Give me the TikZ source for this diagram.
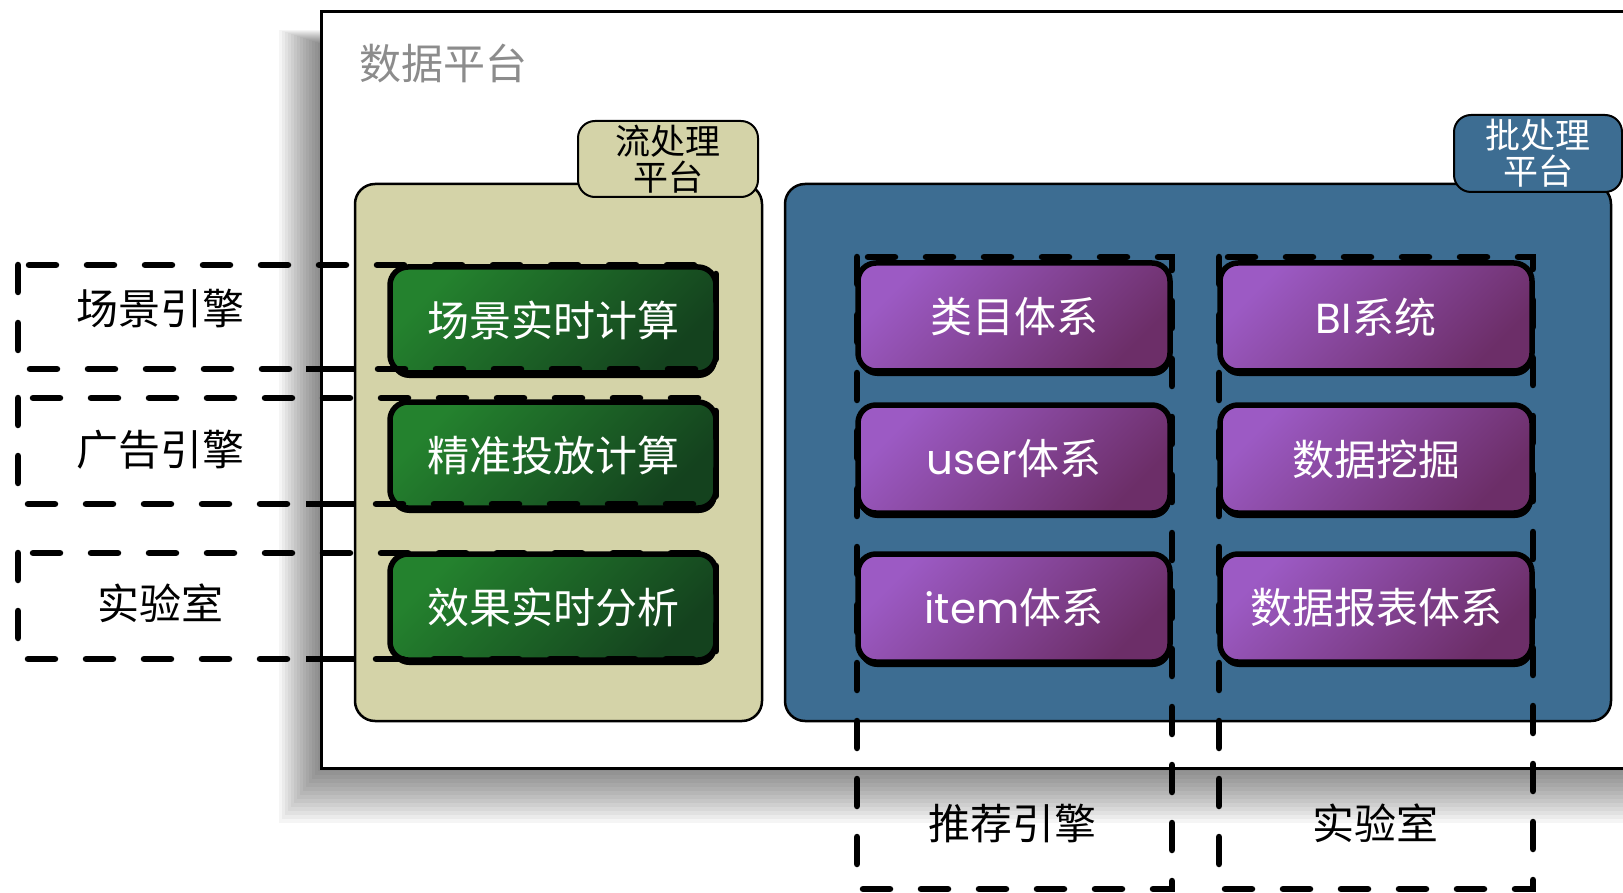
\documentclass[tikz,border=0pt]{standalone}
\usepackage{fontspec}
\setmainfont{Noto Sans CJK SC}
\newfontfamily\latfont{Poppins}
\usetikzlibrary{shadows}
\definecolor{tanfill}{RGB}{212,211,168}
\definecolor{bluefill}{RGB}{61,109,146}
\definecolor{greenTL}{RGB}{36,130,46}
\definecolor{greenBR}{RGB}{20,66,30}
\definecolor{purpTL}{RGB}{156,90,196}
\definecolor{purpBR}{RGB}{108,46,104}
\definecolor{titlegray}{RGB}{140,140,140}
\newcommand\fsBig{\fontsize{42}{46}\selectfont}
\newcommand\fsTab{\fontsize{35}{36}\selectfont}
\begin{document}
\begin{tikzpicture}[x=1pt,y=-1pt,
  every node/.style={inner sep=0pt, outer sep=0pt},
  frame/.style={draw=black, line width=3pt, fill=white},
  platbox/.style={draw=black, line width=2.5pt, rounded corners=20pt},
  tabbox/.style={draw=black, line width=2pt, rounded corners=17pt, align=center, font=\fsTab},
  gbox/.style={draw=black, line width=5.5pt, rounded corners=18pt, minimum width=326pt, minimum height=106pt,
    text=white, font=\fsBig, top color=greenTL, bottom color=greenBR, shading angle=45,
    drop shadow={shadow xshift=1pt, shadow yshift=-5pt, fill=black, opacity=1}},
  pbox/.style={draw=black, line width=5.5pt, rounded corners=18pt, minimum width=312pt, minimum height=108pt,
    text=white, font=\fsBig, top color=purpTL, bottom color=purpBR, shading angle=45,
    drop shadow={shadow xshift=1pt, shadow yshift=-5pt, fill=black, opacity=1}},
  dashline/.style={draw=black, line width=6.5pt, dash pattern=on 27pt off 31pt, line cap=round},
  solidline/.style={draw=black, line width=6.5pt},
  lbl/.style={font=\fsBig, text=black},
]
\useasboundingbox (0,0) rectangle (1623,893);
\fill[white] (0,0) rectangle (1623,893);
\clip (0,0) rectangle (1623,893);

% shadow of the platform frame
\foreach \i in {0,...,13}
  \fill[black, opacity=0.04] (279+3*\i, 30+\i) rectangle (1650, 823-4*\i);

% outer platform
\node[frame, minimum width=1329pt, minimum height=756pt] (platform) at (985.5,390) {};
\node[text=titlegray, font=\fsBig] (title) at (443,64) {数据平台};

% stream processing platform
\node[platbox, fill=tanfill, minimum width=407pt, minimum height=537pt] (stream) at (558.5,452.5) {};
\node[tabbox, fill=tanfill, text=black, minimum width=180pt, minimum height=76pt] (streamtab) at (668,159) {流处理\\平台};

% batch processing platform
\node[platbox, fill=bluefill, minimum width=826pt, minimum height=537pt] (batch) at (1198,452.5) {};
\node[tabbox, fill=bluefill, text=white, minimum width=168pt, minimum height=77pt] (batchtab) at (1538,153.5) {批处理\\平台};

% green boxes
\node[gbox] (g1) at (553,320) {场景实时计算};
\node[gbox] (g2) at (553,455) {精准投放计算};
\node[gbox] (g3) at (553,607) {效果实时分析};

% purple boxes
\node[pbox] (p11) at (1014,317) {类目体系};
\node[pbox] (p21) at (1014,459) {{\latfont user}体系};
\node[pbox] (p31) at (1014,608) {{\latfont item}体系};
\node[pbox] (p12) at (1376,317) {{\latfont BI}系统};
\node[pbox] (p22) at (1376,459) {数据挖掘};
\node[pbox] (p32) at (1376,608) {数据报表体系};

% dashed groupings (left)
\draw[dashline] (18,265) rectangle (716,369);
\draw[dashline] (18,398) rectangle (716,504);
\draw[dashline] (18,553) rectangle (716,659);
\coordinate (c1) at (306,369);
\coordinate (c2) at (306,504);
\coordinate (c3) at (306,659);
\draw[solidline] (c1) -- (stream.west |- c1);
\draw[solidline] (c2) -- (stream.west |- c2);
\draw[solidline] (c3) -- (stream.west |- c3);

% dashed groupings (bottom)
\draw[dashline] (857,257) rectangle (1172,889);
\draw[dashline] (1219,257) rectangle (1533,889);

% labels
\node[lbl] (l1) at (160,308) {场景引擎};
\node[lbl] (l2) at (160,450) {广告引擎};
\node[lbl] (l3) at (160,603) {实验室};
\node[lbl] (l4) at (1012,823) {推荐引擎};
\node[lbl] (l5) at (1375,823) {实验室};
\end{tikzpicture}
\end{document}
